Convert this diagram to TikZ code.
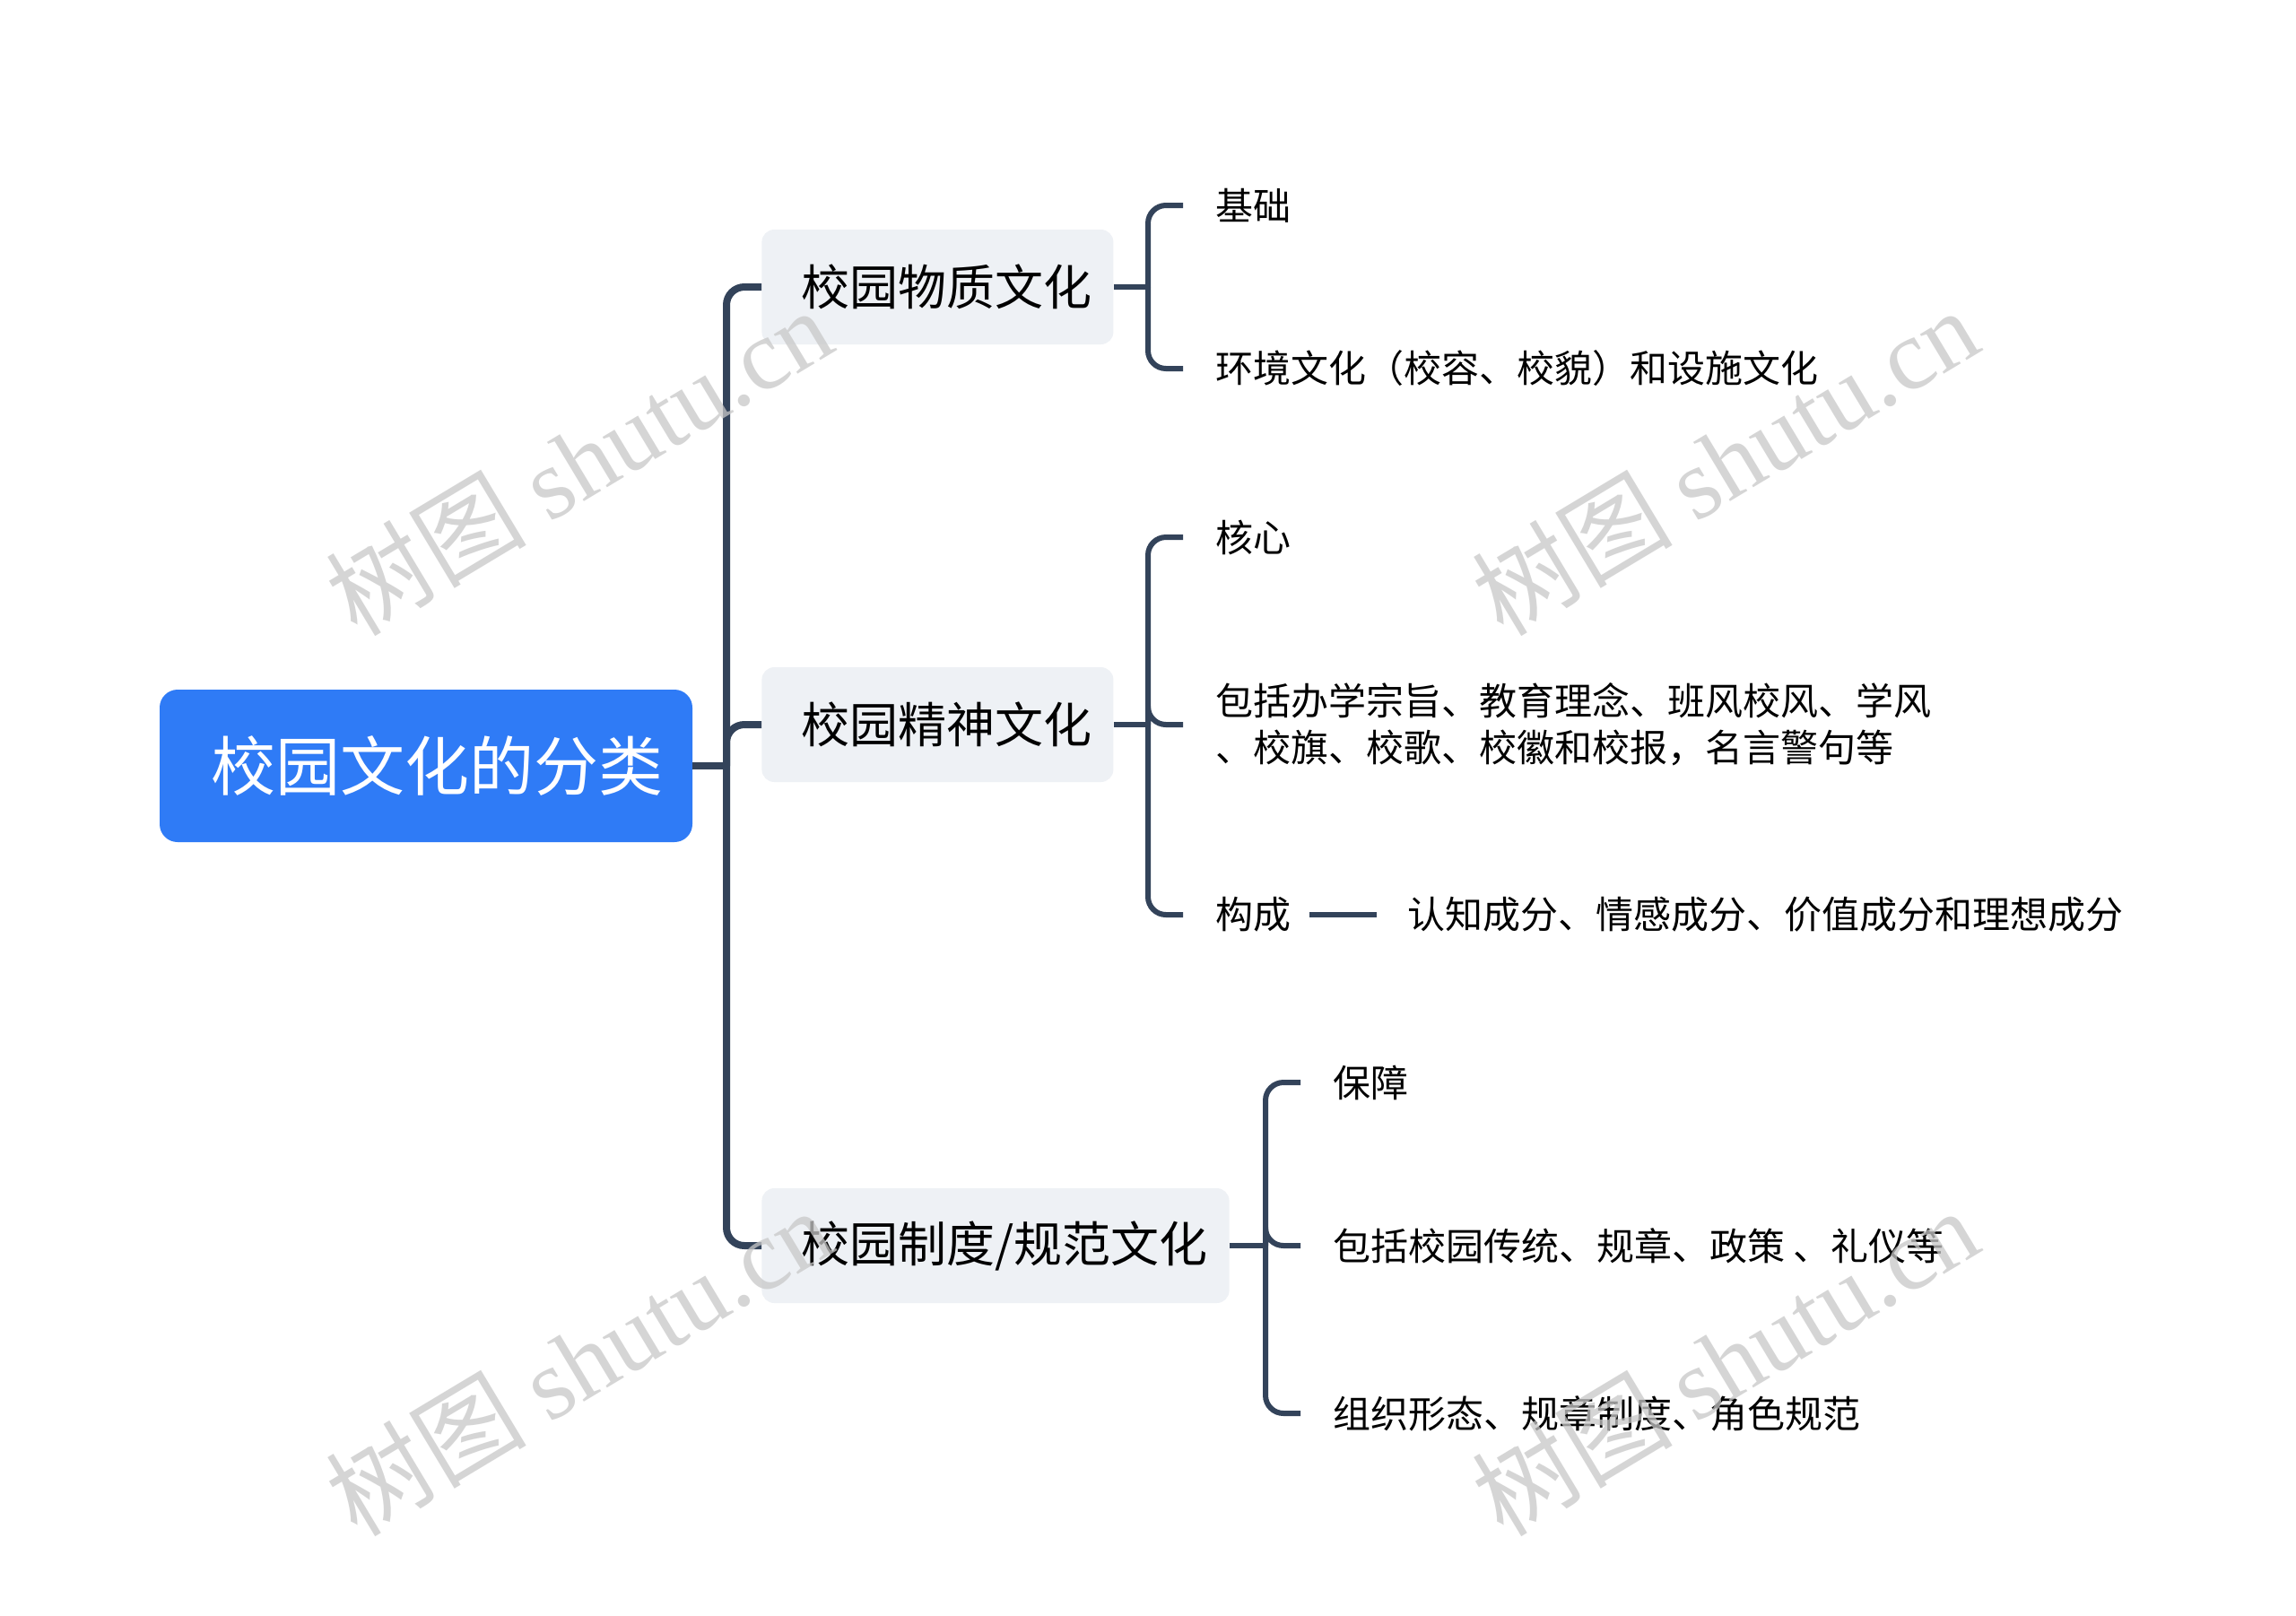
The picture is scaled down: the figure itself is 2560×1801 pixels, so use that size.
\documentclass[tikz,border=0pt]{standalone}
\usepackage{fontspec}
\setmainfont{Noto Sans CJK SC}
\newfontfamily\wmlatin{Liberation Serif}
\definecolor{rootblue}{HTML}{2F7BF6}
\definecolor{subfill}{HTML}{EEF1F5}
\definecolor{linec}{HTML}{33435A}
\definecolor{wmgray}{HTML}{C8C8C8}
\begin{document}
\begin{tikzpicture}[x=0.5pt,y=-0.5pt,
  rootbox/.style={fill=rootblue, text=white, rounded corners=10pt, minimum width=297pt, minimum height=85pt, inner sep=0pt, font=\fontsize{36}{44}\selectfont},
  subbox/.style={fill=subfill, text=black, rounded corners=7pt, minimum height=64pt, inner xsep=17pt, inner ysep=0pt, anchor=west, font=\fontsize{27}{32}\selectfont},
  leaf/.style={anchor=west, inner xsep=0pt, inner ysep=2pt, align=left, text=black, font=\fontsize{21}{26}\selectfont},
  trunkline/.style={draw=linec, line width=4pt, rounded corners=10pt},
  brline/.style={draw=linec, line width=3pt, rounded corners=10pt},
  wm/.style={text=wmgray, opacity=0.75, rotate=31, inner sep=0pt, font=\fontsize{56}{64}\selectfont}
]
\useasboundingbox[fill=white] (0,0) rectangle (2560,1801);

% root
\node[rootbox] (r) at (475,854) {\hspace*{12pt}校园文化的分类};

% main branches
\node[subbox] (b1) at (849,320) {\hspace*{5pt}校园物质文化\hspace*{-5pt}};
\node[subbox] (b2) at (849,808) {\hspace*{5pt}校园精神文化\hspace*{-5pt}};
\node[subbox] (b3) at (849,1389) {\hspace*{5pt}校园制度/规范文化\hspace*{-5pt}};

\coordinate (hub) at (810,854);
\draw[trunkline, rounded corners=0pt] (r.east) -- (hub);
\draw[trunkline] (hub) |- (b1.west);
\draw[trunkline] (hub) |- (b2.west);
\draw[trunkline] (hub) |- (b3.west);

% branch 1 leaves
\node[leaf] (l11) at (1355,229) {基础};
\node[leaf] (l12) at (1355,411) {环境文化（校容、校貌）和设施文化};
\coordinate (h1) at (1280,320);
\draw[brline, rounded corners=0pt] (b1.east) -- (h1);
\draw[brline, shorten >=18pt] (h1) |- (l11.west);
\draw[brline, shorten >=18pt] (h1) |- (l12.west);

% branch 2 leaves
\node[leaf] (l21) at (1355,599) {核心};
\node[leaf] (l22) at (1355,808) {包括办学宗旨、教育理念、班风校风、学风\\、校旗、校歌、校徽和校报，名言警句等};
\node[leaf] (l23) at (1355,1020) {构成};
\node[leaf] (l24) at (1569,1020) {认知成分、情感成分、价值成分和理想成分};
\coordinate (h2) at (1280,808);
\draw[brline, rounded corners=0pt] (b2.east) -- (h2);
\draw[brline, shorten >=18pt] (h2) |- (l21.west);
\draw[brline, shorten >=18pt] (h2) |- (l22.west);
\draw[brline, shorten >=18pt] (h2) |- (l23.west);
\draw[brline, rounded corners=0pt, shorten <=10pt, shorten >=17pt] (l23.east) -- (l24.west);

% branch 3 leaves
\node[leaf] (l31) at (1486,1207) {保障};
\node[leaf] (l32) at (1486,1389) {包括校园传统、规章、政策 、礼仪等};
\node[leaf] (l33) at (1486,1576) {组织形态、规章制度、角色规范};
\coordinate (h3) at (1411,1389);
\draw[brline, rounded corners=0pt] (b3.east) -- (h3);
\draw[brline, shorten >=18pt] (h3) |- (l31.west);
\draw[brline, shorten >=18pt] (h3) |- (l32.west);
\draw[brline, shorten >=18pt] (h3) |- (l33.west);

% watermarks
\node[wm] (w1) at (645,514) {树图 {\wmlatin shutu.cn}};
\node[wm] (w2) at (1923,514) {树图 {\wmlatin shutu.cn}};
\node[wm] (w3) at (645,1518) {树图 {\wmlatin shutu.cn}};
\node[wm] (w4) at (1923,1518) {树图 {\wmlatin shutu.cn}};
\end{tikzpicture}
\end{document}
